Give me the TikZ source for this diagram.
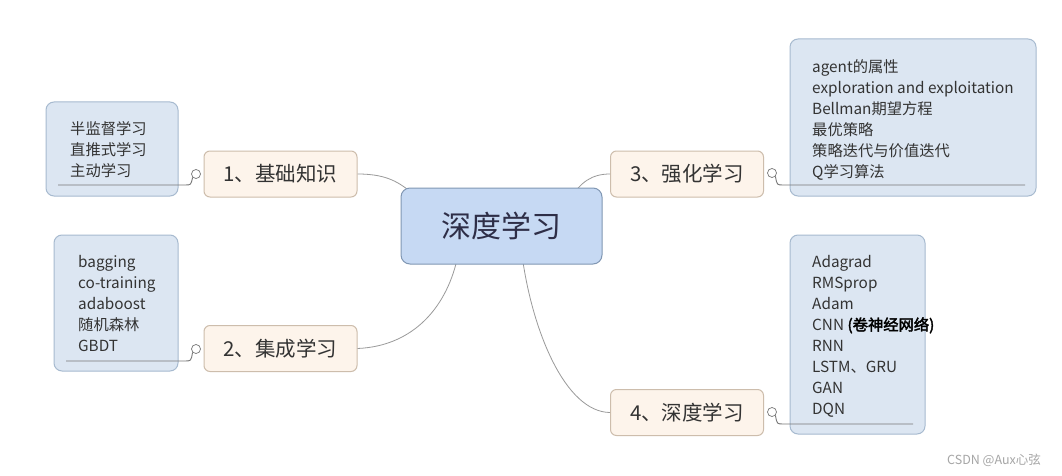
\documentclass[tikz,border=0pt]{standalone}
\usepackage{fontspec}
\setmainfont{Noto Sans CJK SC}
\newfontfamily\cjkb[FakeBold=2.5]{Noto Sans CJK SC}
\definecolor{leaffill}{HTML}{DCE6F2}
\definecolor{leafdraw}{HTML}{A7BACF}
\definecolor{ctrfill}{HTML}{C6D9F3}
\definecolor{ctrdraw}{HTML}{8097B3}
\definecolor{brfill}{HTML}{FDF4EB}
\definecolor{brdraw}{HTML}{CDBDAC}
\definecolor{txt}{HTML}{333333}
\definecolor{conn}{HTML}{9A9A9A}
\definecolor{knobc}{HTML}{777777}
\tikzset{
  leafbox/.style={draw=leafdraw, fill=leaffill, rounded corners=8pt, line width=1pt, inner sep=0},
  leaftext/.style={anchor=north west, inner sep=0, align=left, text=txt, font=\fontsize{15.3}{21}\selectfont},
  ctrbox/.style={draw=ctrdraw, fill=ctrfill, rounded corners=9pt, line width=1pt, minimum width=201pt, minimum height=76pt, text=txt!90!blue, font=\fontsize{30}{32}\selectfont},
  brbox/.style={draw=brdraw, fill=brfill, rounded corners=6pt, line width=1pt, minimum width=153pt, minimum height=46pt, text=txt, font=\fontsize{20.5}{22}\selectfont},
  conline/.style={draw=conn, line width=0.8pt},
  knob/.style={circle, draw=knobc, fill=white, line width=0.7pt, minimum size=9pt, inner sep=0},
  leafline/.style={draw=knobc, line width=0.9pt},
}
\begin{document}
\begin{tikzpicture}[x=1pt,y=-1pt]
\useasboundingbox[fill=white] (0,0) rectangle (1062,476);
% coordinates under the central box
\coordinate (e1) at (420,200);
\coordinate (e3) at (570,200);
\coordinate (e2) at (458,255);
\coordinate (e4) at (522,255);
% branch nodes
\node[brbox] (n1) at (280.5,174) {1、基础知识};
\node[brbox] (n2) at (280.5,348.5) {2、集成学习};
\node[brbox] (n3) at (687,174) {3、强化学习};
\node[brbox] (n4) at (687,412.5) {4、深度学习};
% connectors to center
\draw[conline] (n1.east) .. controls (390,174) and (402,184) .. (e1);
\draw[conline] (n3.west) .. controls (592,174) and (580,182) .. (e3);
\draw[conline] (n2.east) .. controls (415,346) and (448,305) .. (e2);
\draw[conline] (n4.west) .. controls (565,412) and (532,330) .. (e4);
% center
\node[ctrbox] (ctr) at (501.5,226) {深度学习};
% leaf boxes
\node[leafbox, minimum width=132pt, minimum height=94pt] (l1) at (112,149) {};
\node[leafbox, minimum width=124pt, minimum height=136pt] (l2) at (116,303) {};
\node[leafbox, minimum width=246pt, minimum height=157pt] (l3) at (913,117.5) {};
\node[leafbox, minimum width=135pt, minimum height=199pt] (l4) at (857.5,334.5) {};
% leaf texts
\node[leaftext] (t1) at (70,121) {半监督学习\\直推式学习\\主动学习};
\node[leaftext] (t2) at (78,255) {bagging\\co-training\\adaboost\\随机森林\\GBDT};
\node[leaftext] (t3) at (812,59) {agent的属性\\exploration and exploitation\\Bellman期望方程\\最优策略\\策略迭代与价值迭代\\Q学习算法};
\node[leaftext] (t4) at (812,255) {Adagrad\\RMSprop\\Adam\\CNN {\cjkb\color{black}(卷神经网络)}\\RNN\\LSTM、GRU\\GAN\\DQN};
% knobs and underlines
\node[knob] (k1) at (196,174) {};
\node[knob] (k2) at (196,349) {};
\node[knob] (k3) at (772,173) {};
\node[knob] (k4) at (772,412) {};
\coordinate (u1) at (58,185);
\coordinate (u2) at (66,361);
\coordinate (u3) at (1025,185);
\coordinate (u4) at (913,424);
\draw[leafline] (k1.south west) .. controls (191,185) .. (185,185) -- (u1);
\draw[leafline] (k2.south west) .. controls (191,361) .. (185,361) -- (u2);
\draw[leafline] (k3.south east) .. controls (777,185) .. (783,185) -- (u3);
\draw[leafline] (k4.south east) .. controls (777,424) .. (783,424) -- (u4);
% watermark
\node[text=black!35, font=\fontsize{12.5}{14}\selectfont, inner sep=0] (wm) at (994,460) {CSDN @Aux心弦};
\end{tikzpicture}
\end{document}
